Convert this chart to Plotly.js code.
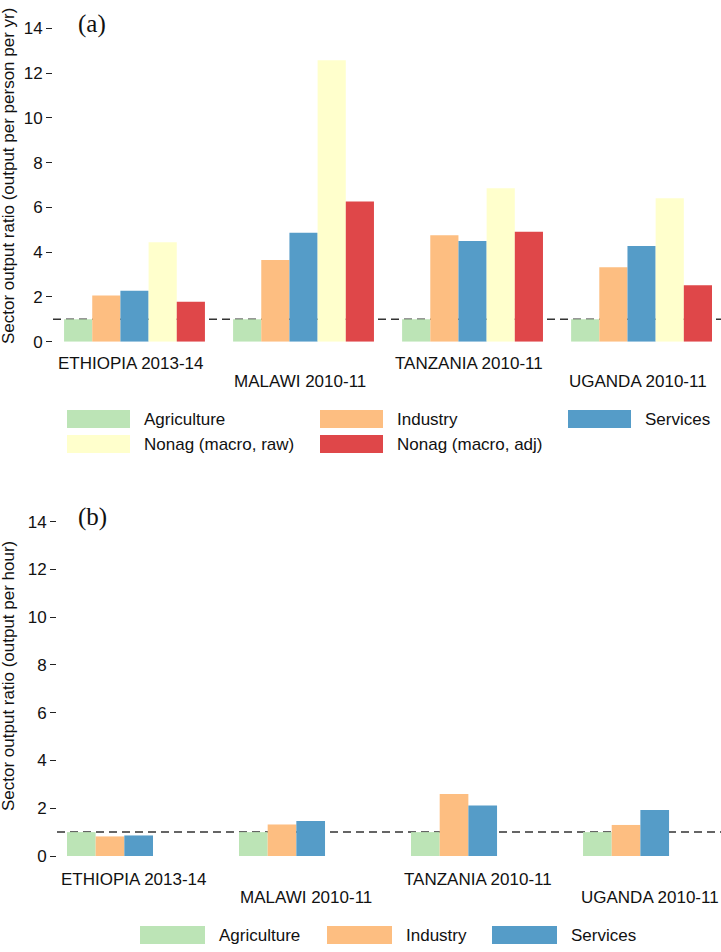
<!DOCTYPE html>
<html>
<head>
<meta charset="utf-8">
<script src="https://cdn.plot.ly/plotly-3.0.1.min.js"></script>
<style>html,body{margin:0;padding:0;background:#fff;}#chart{width:721px;height:952px;}</style>
</head>
<body>
<div id="chart"></div>
<script>
// ---- data ----
const countries = ["ETHIOPIA 2013-14", "MALAWI 2010-11", "TANZANIA 2010-11", "UGANDA 2010-11"];
const seriesA = ["Agriculture", "Industry", "Services", "Nonag (macro, raw)", "Nonag (macro, adj)"];
const seriesB = ["Agriculture", "Industry", "Services"];
// Panel (a): output per person per yr
const a_agriculture = [1.00, 1.00, 1.00, 1.00];
const a_industry    = [2.06, 3.65, 4.76, 3.33];
const a_services    = [2.28, 4.87, 4.50, 4.27];
const a_nonag_raw   = [4.44, 12.57, 6.86, 6.41];
const a_nonag_adj   = [1.78, 6.26, 4.91, 2.52];
// Panel (b): output per hour
const b_agriculture = [1.00, 1.00, 1.00, 1.00];
const b_industry    = [0.82, 1.32, 2.60, 1.30];
const b_services    = [0.86, 1.47, 2.11, 1.93];
const yTicks = [0, 2, 4, 6, 8, 10, 12, 14];
const refLine = 1;

// ---- styles ----
const colours = ["#BCE4B6", "#FDBE81", "#559CC8", "#FFFFCC", "#DF4749"];
const H = 952, W = 721;
const py = p => 1 - p / H;
const px = p => p / W;
const barW = 0.1667;
const sans = "'Liberation Sans', Arimo, Arial, sans-serif";
const serif = "'Liberation Serif', 'Times New Roman', serif";

const valsA = [a_agriculture, a_industry, a_services, a_nonag_raw, a_nonag_adj];
const valsB = [b_agriculture, b_industry, b_services];

const traces = [];
valsA.forEach((v, i) => {
  traces.push({
    type: "bar", x: countries, y: v, name: seriesA[i],
    xaxis: "x", yaxis: "y",
    width: barW, offset: (i - valsA.length / 2) * barW,
    marker: {color: colours[i], line: {width: 0}},
    showlegend: false, hoverinfo: "x+y+name"
  });
});
valsB.forEach((v, i) => {
  traces.push({
    type: "bar", x: countries, y: v, name: seriesB[i],
    xaxis: "x2", yaxis: "y2",
    width: barW, offset: (i - valsB.length / 2) * barW,
    marker: {color: colours[i], line: {width: 0}},
    showlegend: false, hoverinfo: "x+y+name"
  });
});

const yaxisBase = {
  range: [0, 14], tickvals: yTicks, ticktext: yTicks.map(String),
  ticks: "outside", ticklen: 6, tickwidth: 1, tickcolor: "#222",
  showgrid: false, zeroline: false, showline: false,
  tickfont: {family: sans, size: 17, color: "#111"}
};
const xaxisBase = {
  type: "category", showticklabels: false, ticks: "",
  showgrid: false, zeroline: false, showline: false
};

const annotations = [];
const shapes = [];

// x category labels (staggered)
countries.forEach((c, i) => {
  annotations.push({xref: "x", yref: "paper", x: c, y: py(i % 2 === 0 ? 363 : 381),
    xshift: -4, text: c, showarrow: false, xanchor: "center", yanchor: "middle",
    font: {family: sans, size: 17, color: "#111"}});
  annotations.push({xref: "x2", yref: "paper", x: c, y: py(i % 2 === 0 ? 879 : 897),
    xshift: 24, text: c, showarrow: false, xanchor: "center", yanchor: "middle",
    font: {family: sans, size: 17, color: "#111"}});
});

// panel tags
annotations.push({xref: "paper", yref: "paper", x: px(92), y: py(24), text: "(a)", showarrow: false,
  xanchor: "center", yanchor: "middle", font: {family: serif, size: 25, color: "#111"}});
annotations.push({xref: "paper", yref: "paper", x: px(92), y: py(517), text: "(b)", showarrow: false,
  xanchor: "center", yanchor: "middle", font: {family: serif, size: 25, color: "#111"}});

// y titles
annotations.push({xref: "paper", yref: "paper", x: px(8), y: py(176), text: "Sector output ratio (output per person per yr)",
  textangle: -90, showarrow: false, xanchor: "center", yanchor: "middle", font: {family: sans, size: 17, color: "#111"}});
annotations.push({xref: "paper", yref: "paper", x: px(8), y: py(676), text: "Sector output ratio (output per hour)",
  textangle: -90, showarrow: false, xanchor: "center", yanchor: "middle", font: {family: sans, size: 17, color: "#111"}});

// reference dashed lines
shapes.push({type: "line", xref: "x domain", yref: "y", x0: 0, x1: 1, y0: refLine, y1: refLine,
  layer: "below", line: {color: "#333", width: 1.5, dash: "8px,5px"}});
shapes.push({type: "line", xref: "x2 domain", yref: "y2", x0: 0, x1: 1, y0: refLine, y1: refLine,
  layer: "below", line: {color: "#333", width: 1.5, dash: "8px,5px"}});

// manual legends
const legA = [[67, 419], [320, 419], [568, 419], [67, 444], [320, 444]];
seriesA.forEach((s, i) => {
  const [lx, ly] = legA[i];
  shapes.push({type: "rect", xref: "paper", yref: "paper", x0: px(lx), x1: px(lx + 63),
    y0: py(ly + 9), y1: py(ly - 9), fillcolor: colours[i], line: {width: 0}});
  annotations.push({xref: "paper", yref: "paper", x: px(lx + 75), y: py(ly), text: s, showarrow: false,
    xanchor: "left", yanchor: "middle", font: {family: sans, size: 17, color: "#111"}});
});
const legB = [[140, 935], [327, 935], [492, 935]];
seriesB.forEach((s, i) => {
  const [lx, ly] = legB[i];
  shapes.push({type: "rect", xref: "paper", yref: "paper", x0: px(lx), x1: px(lx + 65),
    y0: py(ly + 9), y1: py(ly - 9), fillcolor: colours[i], line: {width: 0}});
  annotations.push({xref: "paper", yref: "paper", x: px(lx + 77), y: py(ly), text: s, showarrow: false,
    xanchor: "left", yanchor: "middle", font: {family: sans, size: 17, color: "#111"}});
});

const layout = {
  width: W, height: H,
  margin: {l: 0, r: 0, t: 0, b: 0},
  paper_bgcolor: "#fff", plot_bgcolor: "#fff",
  barmode: "overlay",
  showlegend: false,
  font: {family: sans},
  xaxis: Object.assign({}, xaxisBase, {domain: [px(53), 1], range: [-0.4822, 3.470], anchor: "y"}),
  yaxis: Object.assign({}, yaxisBase, {domain: [py(341.7), py(28.3)], anchor: "x"}),
  xaxis2: Object.assign({}, xaxisBase, {domain: [px(57), 1], range: [-0.308, 3.552], anchor: "y2"}),
  yaxis2: Object.assign({}, yaxisBase, {domain: [py(856), py(521.7)], anchor: "x2"}),
  annotations: annotations,
  shapes: shapes
};

Plotly.newPlot("chart", traces, layout, {displayModeBar: false, staticPlot: true});
</script>
</body>
</html>
